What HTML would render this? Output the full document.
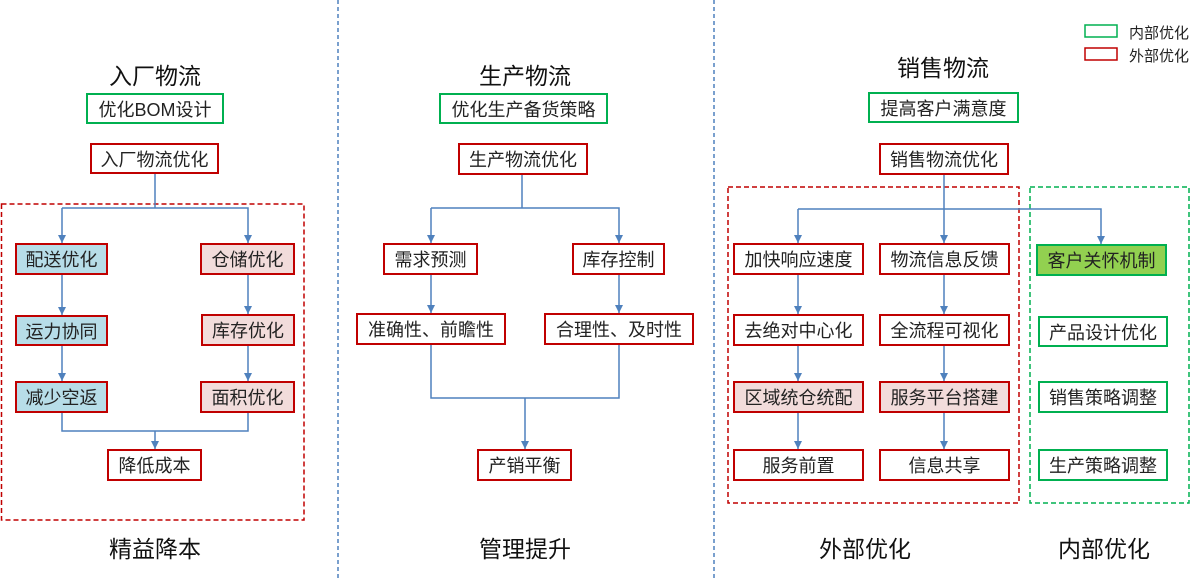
<!DOCTYPE html>
<html><head><meta charset="utf-8"><style>
body{margin:0;width:1203px;height:579px;background:#fff;position:relative;overflow:hidden;font-family:"Liberation Sans","Noto Sans CJK SC",sans-serif;color:#222}
.b{position:absolute;box-sizing:border-box;border:2px solid #c00000;display:flex;align-items:center;justify-content:center;font-size:18px;white-space:nowrap;background:#fff}
.g{border-color:#00b050}
.blue{background:#b7dde8}
.pink{background:#f2dcdb}
.lg{background:#92d050}
.t{position:absolute;font-size:23px;transform:translateX(-50%);white-space:nowrap;color:#111}
svg{position:absolute;left:0;top:0}
</style></head><body>
<svg width="1203" height="579">
<defs><marker id="a" markerWidth="8" markerHeight="8" refX="8" refY="4" orient="auto" markerUnits="userSpaceOnUse"><path d="M0,0 L8,4 L0,8 z" fill="#4f81bd"/></marker></defs>
<g stroke="#4f81bd" stroke-width="1.5" stroke-dasharray="4,3" fill="none">
<line x1="338" y1="0" x2="338" y2="579"/><line x1="714" y1="0" x2="714" y2="579"/></g>
<rect x="1.5" y="204" width="302.5" height="316" fill="none" stroke="#c00000" stroke-width="1.5" stroke-dasharray="5,3"/>
<rect x="728" y="187" width="291" height="316" fill="none" stroke="#c00000" stroke-width="1.5" stroke-dasharray="5,3"/>
<rect x="1030" y="187" width="159" height="316" fill="none" stroke="#00b050" stroke-width="1.5" stroke-dasharray="5,3"/>
<g stroke="#4f81bd" stroke-width="1.5" fill="none">
<polyline points="155,174 155,208"/><polyline points="62,208 248,208 248,243" marker-end="url(#a)"/><line x1="62" y1="208" x2="62" y2="243" marker-end="url(#a)"/>
<line x1="62" y1="275" x2="62" y2="315" marker-end="url(#a)"/><line x1="248" y1="275" x2="248" y2="314" marker-end="url(#a)"/>
<line x1="62" y1="346" x2="62" y2="381" marker-end="url(#a)"/><line x1="248" y1="346" x2="248" y2="381" marker-end="url(#a)"/>
<polyline points="62,413 62,431 248,431 248,413"/><line x1="155" y1="431" x2="155" y2="449" marker-end="url(#a)"/>
<line x1="522" y1="175" x2="522" y2="208"/><polyline points="431,208 619,208 619,243" marker-end="url(#a)"/><line x1="431" y1="208" x2="431" y2="243" marker-end="url(#a)"/>
<line x1="431" y1="275" x2="431" y2="313" marker-end="url(#a)"/><line x1="619" y1="275" x2="619" y2="313" marker-end="url(#a)"/>
<polyline points="431,345 431,398 619,398 619,345"/><line x1="525" y1="398" x2="525" y2="449" marker-end="url(#a)"/>
<line x1="944" y1="175" x2="944" y2="243" marker-end="url(#a)"/><polyline points="798,209 1101,209 1101,244" marker-end="url(#a)"/><line x1="798" y1="209" x2="798" y2="243" marker-end="url(#a)"/>
<line x1="798" y1="275" x2="798" y2="314" marker-end="url(#a)"/><line x1="944" y1="275" x2="944" y2="314" marker-end="url(#a)"/>
<line x1="798" y1="346" x2="798" y2="381" marker-end="url(#a)"/><line x1="944" y1="346" x2="944" y2="381" marker-end="url(#a)"/>
<line x1="798" y1="413" x2="798" y2="449" marker-end="url(#a)"/><line x1="944" y1="413" x2="944" y2="449" marker-end="url(#a)"/>
</g>
<rect x="1085" y="25" width="32" height="12" fill="none" stroke="#00b050" stroke-width="1.5"/>
<rect x="1085" y="48" width="32" height="12" fill="none" stroke="#c00000" stroke-width="1.5"/>
</svg>
<div style="position:absolute;left:1129px;top:22px;font-size:15px">内部优化</div>
<div style="position:absolute;left:1129px;top:45px;font-size:15px">外部优化</div>

<div class="t" style="left:155px;top:57px">入厂物流</div>
<div class="t" style="left:525px;top:57px">生产物流</div>
<div class="t" style="left:943px;top:49px">销售物流</div>
<div class="t" style="left:155px;top:530px">精益降本</div>
<div class="t" style="left:525px;top:530px">管理提升</div>
<div class="t" style="left:865px;top:530px">外部优化</div>
<div class="t" style="left:1104px;top:530px">内部优化</div>

<div class="b g" style="left:86px;top:93px;width:138px;height:31px">优化BOM设计</div>
<div class="b" style="left:90px;top:143px;width:129px;height:31px">入厂物流优化</div>
<div class="b blue" style="left:15px;top:243px;width:93px;height:32px">配送优化</div>
<div class="b pink" style="left:200px;top:243px;width:95px;height:32px">仓储优化</div>
<div class="b blue" style="left:15px;top:315px;width:93px;height:31px">运力协同</div>
<div class="b pink" style="left:201px;top:314px;width:94px;height:32px">库存优化</div>
<div class="b blue" style="left:15px;top:381px;width:93px;height:32px">减少空返</div>
<div class="b pink" style="left:200px;top:381px;width:95px;height:32px">面积优化</div>
<div class="b" style="left:107px;top:449px;width:95px;height:32px">降低成本</div>

<div class="b g" style="left:439px;top:93px;width:169px;height:31px">优化生产备货策略</div>
<div class="b" style="left:458px;top:143px;width:130px;height:32px">生产物流优化</div>
<div class="b" style="left:383px;top:243px;width:95px;height:32px">需求预测</div>
<div class="b" style="left:572px;top:243px;width:93px;height:32px">库存控制</div>
<div class="b" style="left:356px;top:313px;width:150px;height:32px">准确性、前瞻性</div>
<div class="b" style="left:544px;top:313px;width:150px;height:32px">合理性、及时性</div>
<div class="b" style="left:477px;top:449px;width:95px;height:32px">产销平衡</div>

<div class="b g" style="left:868px;top:92px;width:151px;height:31px">提高客户满意度</div>
<div class="b" style="left:879px;top:143px;width:130px;height:32px">销售物流优化</div>
<div class="b" style="left:733px;top:243px;width:131px;height:32px">加快响应速度</div>
<div class="b" style="left:879px;top:243px;width:131px;height:32px">物流信息反馈</div>
<div class="b g lg" style="left:1036px;top:244px;width:131px;height:32px">客户关怀机制</div>
<div class="b" style="left:733px;top:314px;width:131px;height:32px">去绝对中心化</div>
<div class="b" style="left:879px;top:314px;width:131px;height:32px">全流程可视化</div>
<div class="b pink" style="left:733px;top:381px;width:131px;height:32px">区域统仓统配</div>
<div class="b pink" style="left:879px;top:381px;width:131px;height:32px">服务平台搭建</div>
<div class="b" style="left:733px;top:449px;width:131px;height:32px">服务前置</div>
<div class="b" style="left:879px;top:449px;width:131px;height:32px">信息共享</div>
<div class="b g" style="left:1038px;top:316px;width:130px;height:31px">产品设计优化</div>
<div class="b g" style="left:1038px;top:381px;width:130px;height:32px">销售策略调整</div>
<div class="b g" style="left:1038px;top:449px;width:130px;height:32px">生产策略调整</div>
</body></html>
